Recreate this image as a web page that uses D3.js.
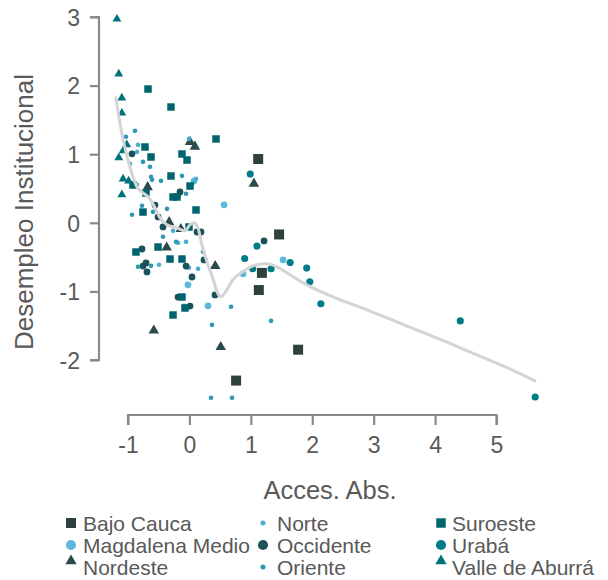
<!DOCTYPE html>
<html><head><meta charset="utf-8">
<script src="https://cdn.jsdelivr.net/npm/d3@7/dist/d3.min.js"></script>
<style>body{margin:0;background:#fff}text{font-family:"Liberation Sans",Arial,sans-serif;fill:#595959}</style>
</head><body><svg id="c" width="608" height="580"></svg>
<script>
const regions = ["Bajo Cauca","Magdalena Medio","Nordeste","Norte","Occidente","Oriente","Suroeste","Urabá","Valle de Aburrá"];
const bajoCauca = [[1.12,0.93],[1.46,-0.17],[1.18,-0.73],[1.13,-0.98],[1.77,-1.85],[0.76,-2.30]];
const magdalenaMedio = [[0.564,0.262],[1.524,-0.539],[0.873,-0.744],[-0.023,-0.904],[0.303,-1.210],[0.075,0.612]];
const nordeste = [[-0.68,0.52],[0.01,1.18],[0.09,1.11],[1.05,0.57],[-0.33,0.01],[-0.14,-0.09],[-0.37,-0.36],[0.42,-0.63],[-0.58,-1.57],[0.51,-1.81]];
const norte = [[-0.837,1.137],[-0.853,1.035],[-0.967,0.860],[0.107,0.641],[-0.007,1.224],[-0.169,0.408],[-0.853,0.554],[-0.267,-0.117],[-0.186,-0.292],[-0.055,-0.277],[-0.495,-0.612],[0.140,-0.671],[-0.088,-1.210],[-0.007,-0.656],[0.059,0.583]];
const occidente = [[-0.935,1.006],[-0.153,0.449],[-0.560,0.259],[-0.511,0.085],[-0.430,-0.061],[0.124,-0.134],[0.189,-0.134],[-0.772,-0.382],[-0.756,-0.630],[-0.707,-0.586],[-0.691,-0.717],[-0.055,-0.630],[0.042,-0.790],[0.238,-0.542],[0.417,-1.052],[-0.186,-1.082],[0.010,-1.213],[1.215,-0.265]];
const oriente = [[-0.886,1.341],[-1.033,1.254],[-0.756,0.889],[-0.642,0.816],[-0.625,0.671],[-0.609,0.627],[-0.463,0.612],[-0.121,0.685],[-0.055,0.423],[-0.935,0.117],[-0.772,0.248],[-0.593,0.160],[-0.365,0.204],[-0.430,-0.204],[-0.218,-0.277],[0.222,-0.423],[-0.837,-0.641],[-0.625,-0.627],[0.678,-1.224],[0.368,-1.487],[1.329,-1.429],[0.352,-2.551],[0.694,-2.551]];
const suroeste = [[-0.674,1.950],[-0.300,1.688],[0.433,1.222],[-0.723,1.105],[-0.625,0.959],[-0.121,1.003],[-0.039,0.915],[-0.300,0.682],[0.010,0.536],[-0.919,0.551],[-0.707,0.434],[-0.267,0.376],[-0.202,0.376],[-0.756,0.157],[0.107,0.187],[-0.007,-0.061],[-0.511,-0.353],[-0.870,-0.426],[-0.316,-0.528],[-0.121,-0.528],[-0.121,-1.082],[-0.072,-1.242],[-0.267,-1.344]];
const uraba = [[0.99,0.71],[1.10,-0.34],[0.90,-0.52],[1.03,-0.67],[1.33,-0.67],[1.64,-0.58],[1.91,-0.66],[1.96,-0.86],[2.14,-1.18],[4.41,-1.43],[5.63,-2.54]];
const valleAburra = [[-1.18,2.97],[-1.15,2.17],[-1.10,1.82],[-1.10,1.60],[-1.02,1.14],[-1.08,1.05],[-1.15,0.95],[-1.08,0.64],[-0.99,0.61],[-1.10,0.41]];
const smooth = [[-1.197,1.822],[-1.132,1.458],[-1.050,1.093],[-0.969,0.816],[-0.855,0.525],[-0.757,0.437],[-0.643,0.350],[-0.562,0.219],[-0.480,0.073],[-0.366,-0.029],[-0.204,-0.073],[-0.073,-0.117],[0.008,-0.029],[0.073,0.0],[0.138,-0.073],[0.204,-0.321],[0.285,-0.569],[0.383,-0.816],[0.464,-1.035],[0.513,-1.079],[0.578,-1.020],[0.708,-0.831],[0.871,-0.714],[1.034,-0.627],[1.230,-0.598],[1.425,-0.641],[1.637,-0.758],[1.914,-0.904],[2.337,-1.079],[2.891,-1.268],[3.428,-1.462],[4.194,-1.740],[4.731,-1.945],[5.269,-2.150],[5.627,-2.303]];
const xTicks = [-1,0,1,2,3,4,5];
const yTicks = [-2,-1,0,1,2,3];

const seriesData = [bajoCauca,magdalenaMedio,nordeste,norte,occidente,oriente,suroeste,uraba,valleAburra];
const styles = [
 {shape:d3.symbolSquare, size:100, color:"#2e413f", lsize:100},
 {shape:d3.symbolCircle, size:36, color:"#5cb8dc", lsize:80},
 {shape:d3.symbolTriangle, size:48, color:"#2a4a4b", lsize:55},
 {shape:d3.symbolCircle, size:17, color:"#4aaecf", lsize:20},
 {shape:d3.symbolCircle, size:36, color:"#1a5258", lsize:80},
 {shape:d3.symbolCircle, size:17, color:"#2f97b3", lsize:20},
 {shape:d3.symbolSquare, size:56, color:"#00646e", lsize:90},
 {shape:d3.symbolCircle, size:40, color:"#007b8a", lsize:80},
 {shape:d3.symbolTriangle, size:34, color:"#00727d", lsize:55}
];

const svg = d3.select("#c");
const x = d3.scaleLinear().domain([-1,5]).range([128,496.5]);
const y = d3.scaleLinear().domain([-2,3]).range([360,17]);
const axisColor = "#8a8a8a";
const fmt = d => String(d);

// y axis (range frame)
const ya = svg.append("g").attr("transform","translate(99,0)")
  .call(d3.axisLeft(y).tickValues(yTicks).tickSize(9).tickPadding(10).tickFormat(fmt));
ya.select(".domain").attr("d", `M-9,${y(3)}H0V${y(-2)}H-9`);
// x axis
const xa = svg.append("g").attr("transform","translate(0,415)")
  .call(d3.axisBottom(x).tickValues(xTicks).tickSize(10).tickPadding(12).tickFormat(fmt));
xa.select(".domain").attr("d", `M${x(-1)},10V0H${x(5)}V10`);
svg.selectAll(".domain").attr("stroke",axisColor).attr("stroke-width",2.2);
svg.selectAll(".tick line").attr("stroke",axisColor).attr("stroke-width",2.2);
svg.selectAll(".tick text").attr("fill","#595959").style("font-size","23px").style("font-family","Liberation Sans, Arial, sans-serif");
ya.selectAll(".tick text").attr("dy","0.36em");

// axis titles
svg.append("text").attr("x",330).attr("y",499).attr("text-anchor","middle").style("font-size","25.5px").text("Acces. Abs.");
svg.append("text").attr("transform","translate(33,212) rotate(-90)").attr("text-anchor","middle").style("font-size","26px").text("Desempleo Institucional");

// points
seriesData.forEach((pts,i)=>{
  const st = styles[i];
  const sym = d3.symbol().type(st.shape).size(st.size);
  svg.append("g").selectAll("path").data(pts).join("path")
    .attr("d", sym)
    .attr("transform", d=>`translate(${x(d[0])},${y(d[1])})`)
    .attr("fill", st.color);
});

// smooth
svg.append("path").datum(smooth)
  .attr("d", d3.line().x(d=>x(d[0])).y(d=>y(d[1])).curve(d3.curveMonotoneX))
  .attr("fill","none").attr("stroke","#d4d4d4").attr("stroke-width",3).attr("stroke-linecap","round");

// legend
const colX = [71,263,441], txtX = [83,277,452];
const rowBase = [531,553,575];
regions.forEach((r,i)=>{
  const col = Math.floor(i/3), row = i%3;
  const st = styles[i];
  const sym = d3.symbol().type(st.shape).size(st.lsize);
  const cy = rowBase[row] - 8 - (st.shape===d3.symbolTriangle ? 6 : 0);
  svg.append("path").attr("d",sym).attr("transform",`translate(${colX[col]},${cy})`).attr("fill",st.color);
  svg.append("text").attr("x",txtX[col]).attr("y",rowBase[row]).style("font-size","21px").text(r);
});
</script></body></html>
